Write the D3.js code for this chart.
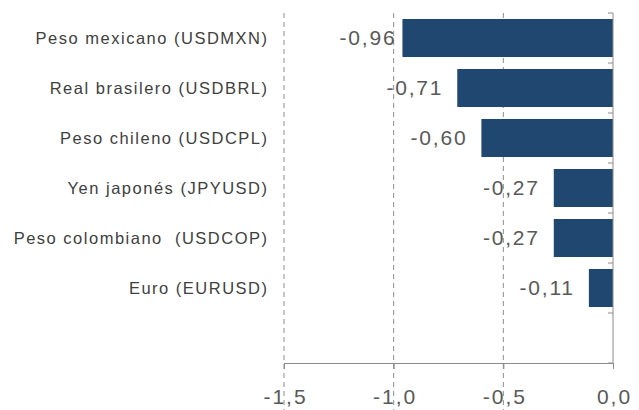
<!DOCTYPE html>
<html>
<head>
<meta charset="utf-8">
<script src="https://cdn.jsdelivr.net/npm/d3@7"></script>
<style>
  body { margin: 0; background: #fff; }
  svg { display: block; }
</style>
</head>
<body>
<div id="chart"></div>
<script>
// Data
const categories = [
    "Peso mexicano (USDMXN)",
    "Real brasilero (USDBRL)",
    "Peso chileno (USDCPL)",
    "Yen japonés (JPYUSD)",
    "Peso colombiano  (USDCOP)",
    "Euro (EURUSD)"
];
const values = [-0.96, -0.71, -0.60, -0.27, -0.27, -0.11];
const xTicks = [-1.5, -1.0, -0.5, 0.0];

const W = 639, H = 410;
const margin = {top: 13, right: 26, bottom: 47, left: 284};
const width = W - margin.left - margin.right;
const height = H - margin.top - margin.bottom;
const font = "Liberation Sans, Arial, sans-serif";

const svg = d3.select("#chart")
    .append("svg")
    .attr("width", W)
    .attr("height", H)
    .append("g")
    .attr("transform", `translate(${margin.left},${margin.top})`);

// Scales (one empty band at the bottom)
const x = d3.scaleLinear()
    .domain([-1.5, 0])
    .range([0, width]);

const y = d3.scaleBand()
    .domain(categories.concat([""]))
    .range([0, height])
    .paddingInner(0.24)
    .paddingOuter(0.12);

const fmt = v => d3.format(".1f")(v).replace(".", ",").replace("−", "-");

// Dashed gridlines (run through tick labels)
svg.append("g")
    .selectAll("line")
    .data(xTicks.filter(d => d !== 0))
    .enter()
    .append("line")
    .attr("x1", d => x(d))
    .attr("x2", d => x(d))
    .attr("y1", 0)
    .attr("y2", H - margin.top)
    .attr("stroke", "#8c8c8c")
    .attr("stroke-width", 1)
    .attr("stroke-dasharray", "5,4");

// Bars
svg.selectAll(".bar")
    .data(values)
    .enter()
    .append("rect")
    .attr("class", "bar")
    .attr("x", d => x(d))
    .attr("y", (d, i) => y(categories[i]))
    .attr("width", d => x(0) - x(d))
    .attr("height", y.bandwidth())
    .attr("fill", "#1f476f");

// Value labels
svg.selectAll(".val")
    .data(values)
    .enter()
    .append("text")
    .attr("class", "val")
    .attr("x", (d, i) => x(d) - (i === 0 ? 6 : 14))
    .attr("y", (d, i) => y(categories[i]) + y.bandwidth() / 2)
    .attr("dy", "0.35em")
    .attr("text-anchor", "end")
    .style("font-family", font)
    .style("font-size", "21px")
    .style("letter-spacing", "1.8px")
    .style("fill", "#595959")
    .text(d => d.toFixed(2).replace(".", ","));

// Category labels
svg.selectAll(".cat")
    .data(categories)
    .enter()
    .append("text")
    .attr("class", "cat")
    .attr("x", -15.5)
    .attr("y", d => y(d) + y.bandwidth() / 2)
    .attr("dy", "0.35em")
    .attr("text-anchor", "end")
    .style("font-family", font)
    .style("font-size", "16.5px")
    .style("letter-spacing", "1.5px")
    .style("white-space", "pre")
    .style("fill", "#404040")
    .text(d => d);

// X axis
const xAxis = svg.append("g")
    .attr("transform", `translate(0,${height})`)
    .call(d3.axisBottom(x).tickValues(xTicks).tickSize(6).tickSizeOuter(0).tickFormat(fmt));
xAxis.select(".domain").attr("stroke", "#8c8c8c");
xAxis.selectAll(".tick line").attr("stroke", "#8c8c8c");
xAxis.selectAll(".tick text")
    .attr("y", 26)
    .attr("x", 1)
    .style("font-family", font)
    .style("font-size", "21px")
    .style("letter-spacing", "2px")
    .style("fill", "#595959");

// Y axis at zero with ticks on band boundaries
const yAxisG = svg.append("g")
    .attr("transform", `translate(${x(0)},0)`);
yAxisG.append("line")
    .attr("y1", 0)
    .attr("y2", height)
    .attr("stroke", "#8c8c8c");
const step = y.step();
yAxisG.selectAll(".btick")
    .data(d3.range(y.domain().length + 1))
    .enter()
    .append("line")
    .attr("class", "btick")
    .attr("x1", -5)
    .attr("x2", 0)
    .attr("y1", i => i * step)
    .attr("y2", i => i * step)
    .attr("stroke", "#8c8c8c");
</script>
</body>
</html>
